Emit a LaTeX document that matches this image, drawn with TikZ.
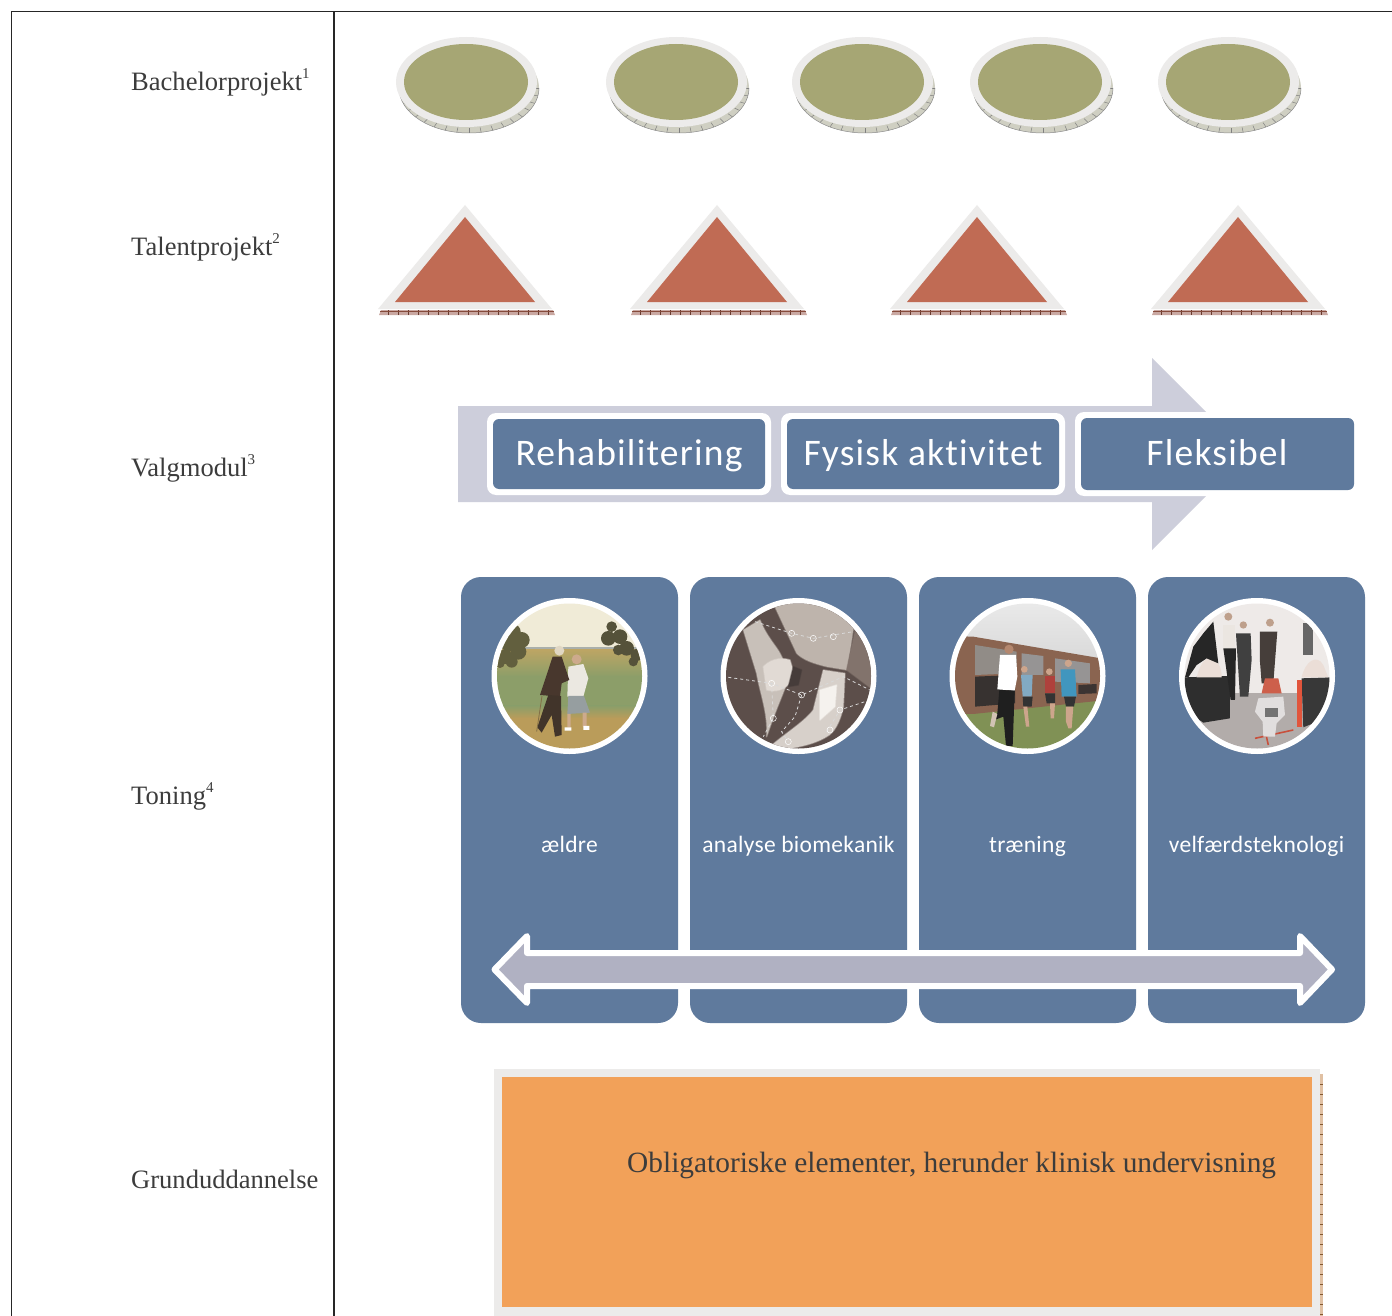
\documentclass[tikz,border=0pt]{standalone}
\usepackage{fontspec}
\setmainfont{Liberation Serif}
\newfontfamily\calibbig[LetterSpace=3.2,Ligatures=NoCommon]{Carlito}
\newfontfamily\calibsm[LetterSpace=1.3,Ligatures=NoCommon]{Carlito}
\definecolor{boxblue}{HTML}{5F7A9D}
\definecolor{ringgrey}{HTML}{ECEBEA}
\definecolor{olive}{HTML}{A6A674}
\definecolor{terra}{HTML}{C06B54}
\definecolor{lav}{HTML}{CDCEDB}
\definecolor{lavd}{HTML}{B0B1C2}
\definecolor{orangebox}{HTML}{F2A159}
\definecolor{inktext}{HTML}{3C3C3C}
\definecolor{discedge}{HTML}{CFCFC2}
\definecolor{trihatch}{HTML}{C9A8A2}
\definecolor{straw}{RGB}{188,165,100}
\definecolor{fieldgreen}{RGB}{140,158,105}
\definecolor{pathstraw}{RGB}{186,156,90}
\definecolor{xa}{RGB}{190,180,172}
\definecolor{xb}{RGB}{130,115,108}
\definecolor{xc}{RGB}{200,192,185}
\definecolor{xd}{RGB}{225,218,212}
\definecolor{xe}{RGB}{215,208,202}
\definecolor{xf}{RGB}{245,242,238}
\definecolor{xg}{RGB}{70,60,58}
\tikzset{
  rowlabel/.style={anchor=base west,text=inktext,font=\fontsize{26.55}{30}\selectfont,inner sep=0pt},
  pilltext/.style={anchor=base,text=white,font=\calibbig\fontsize{37.5}{40}\selectfont,inner sep=0pt},
  coltext/.style={anchor=base,text=white,font=\calibsm\fontsize{23.5}{26}\selectfont,inner sep=0pt},
  tickline/.style={line width=.5pt,draw=#1},
  soft/.style={fill=#1,draw=#1,draw opacity=.45,line width=1.5pt,line join=round},
}
\newcommand{\Disc}[1]{%
  \begin{scope}[shift={(#1,82)}]
    \fill[discedge] (3,6) ellipse [x radius=70,y radius=45];
    \foreach \a in {0,10,...,170}{\draw[tickline=black!50] ({3+70*cos(\a)},{6+45*sin(\a)}) -- ({3+64*cos(\a)},{6+40*sin(\a)});}
    \draw[line width=.5pt,draw=black!45] (-67,6) arc [start angle=180,end angle=0,x radius=70,y radius=45];
    \fill[ringgrey] (0.5,0) ellipse [x radius=70.5,y radius=45];
    \fill[olive] (0,0) ellipse [x radius=62,y radius=38];
  \end{scope}}
\newcommand{\Tri}[1]{%
  \begin{scope}[shift={(#1,0)}]
    \fill[trihatch] (-85,310) -- (87,310) -- (89,315) -- (-87,315) -- cycle;
    \foreach \d in {-78,-68,...,82}{\draw[tickline=terra!55!black] (\d,310) -- (\d,315);}
    \draw[line width=.7pt,draw=terra!70!black] (-86,311) -- (88,311);
    \fill[ringgrey] (-1,205) -- (86,309) -- (-88,309) -- cycle;
    \fill[terra] (-1,217) -- (69,302) -- (-71,302) -- cycle;
  \end{scope}}
\newcommand{\Pill}[4]{%
  \fill[rounded corners=9pt,white] (#1,413) rectangle (#2,495);
  \fill[rounded corners=6pt,boxblue] ({#1+6},419) rectangle ({#2-6},489);
  \node[pilltext] (#4) at ({(#1+#2)/2},465) {#3};}
\begin{document}
\begin{tikzpicture}[x=1pt,y=-1pt]
\useasboundingbox (0,0) rectangle (1392,1316);
\fill[white] (0,0) rectangle (1392,1316);
% frame
\draw[line width=1.6pt,black!85] (1392,11.5) -- (11.5,11.5) -- (11.5,1316);
\draw[line width=1.6pt,black!85] (334,11.5) -- (334,1316);
% row labels
\node[rowlabel] (l1) at (131,90.5) {Bachelorprojekt\raisebox{12pt}{\fontsize{15}{15}\selectfont 1}};
\node[rowlabel] (l2) at (131,255) {Talentprojekt\raisebox{12pt}{\fontsize{15}{15}\selectfont 2}};
\node[rowlabel] (l3) at (131,476) {Valgmodul\raisebox{12pt}{\fontsize{15}{15}\selectfont 3}};
\node[rowlabel] (l4) at (131,804) {Toning\raisebox{12pt}{\fontsize{15}{15}\selectfont 4}};
\node[rowlabel] (l5) at (131,1188) {Grunduddannelse};
% discs and triangles
\Disc{466}\Disc{676}\Disc{862}\Disc{1040}\Disc{1228}
\Tri{466}\Tri{718}\Tri{978}\Tri{1239}
% big arrow
\fill[lav] (458,406) -- (1152,406) -- (1152,358) -- (1248,454) -- (1152,550) -- (1152,502) -- (458,502) -- cycle;
\Pill{487}{771}{Rehabilitering}{p1}
\Pill{781}{1065}{Fysisk aktivitet}{p2}
\fill[rounded corners=9pt,white] (1075,412) rectangle (1360,496);
\fill[white] (1354,410) rectangle (1362,498);
\fill[rounded corners=6pt,boxblue] (1081,418) rectangle (1354,490);
\node[pilltext] (p3) at (1217,465) {Fleksibel};
% columns
\foreach \xa in {461,690,919,1148}{
  \fill[boxblue,rounded corners=20pt] (\xa,577) rectangle ({\xa+217},1023);
}
% photo 1
\fill[white] (569.5,676) circle [radius=78];
\begin{scope}
  \clip (569.5,676) circle [radius=72.5];
  \begin{scope}[shift={(480,590)},x=.3333pt,y=-.3333pt]
    \fill[fill={rgb,255:red,240;green,235;blue,215}] (0,0) rectangle (520,180);
    \fill[fill={rgb,255:red,170;green,175;blue,170}] (0,172) rectangle (520,182);
    \shade[top color=straw,bottom color=fieldgreen] (0,180) rectangle (520,260);
    \fill[fieldgreen] (0,258) rectangle (520,350);
    \shade[top color=fieldgreen,bottom color=pathstraw] (0,348) rectangle (520,385);
    \fill[pathstraw] (0,383) rectangle (520,520);
    % trees
    \foreach \tx/\ty/\tr in {100/125/22,125/150/24,85/160/24,115/185/24,75/200/22,95/215/18,60/220/14}{
      \fill[fill={rgb,255:red,98;green,95;blue,62}] (\tx,\ty) circle [radius=\tr];}
    \foreach \tx/\ty/\tr in {395/110/16,385/145/22,420/140/22,440/175/22,470/195/18,415/180/16,460/215/14}{
      \fill[fill={rgb,255:red,85;green,82;blue,58}] (\tx,\ty) circle [radius=\tr];}
    % woman
    \fill[fill={rgb,255:red,205;green,170;blue,140}] (290,208) circle [radius=15];
    \fill[fill={rgb,255:red,235;green,232;blue,225}] (265,230) -- (310,222) -- (325,265) -- (310,320) -- (262,320) -- cycle;
    \fill[fill={rgb,255:red,150;green,158;blue,160}] (265,318) -- (312,318) -- (330,368) -- (262,372) -- cycle;
    \fill[fill={rgb,255:red,205;green,170;blue,140}] (262,372) rectangle (272,412) (308,368) rectangle (320,410);
    \fill[white] (254,412) rectangle (274,422) (310,408) rectangle (328,420);
    % man
    \fill[fill={rgb,255:red,225;green,215;blue,195}] (238,182) circle [radius=15];
    \fill[fill={rgb,255:red,72;green,55;blue,45}] (218,200) -- (245,200) -- (268,270) -- (245,280) -- (240,320) -- (180,315) -- cycle;
    \fill[fill={rgb,255:red,65;green,52;blue,42}] (205,315) -- (243,318) -- (245,435) -- (225,440) -- (215,375) -- (185,428) -- (172,412) -- cycle;
    \draw[line width=.8pt,draw={rgb,255:red,130;green,110;blue,70}] (186,318) -- (170,425);
  \end{scope}
\end{scope}
% photo 2
\fill[white] (798.5,676) circle [radius=78];
\begin{scope}
  \clip (798.5,676) circle [radius=72.5];
  \begin{scope}[shift={(480,590)},x=.3333pt,y=-.3333pt]
    \fill[fill={rgb,255:red,92;green,78;blue,74}] (700,0) rectangle (1200,500);
    \path[soft=xa] (880,40) -- (1130,40) .. controls (1120,120) and (1110,190) .. (1100,240) -- (1040,230) .. controls (1000,220) and (970,210) .. (950,190) -- cycle;
    \path[soft=xb] (1100,240) -- (1130,100) -- (1180,150) -- (1180,300) -- cycle;
    \path[soft=xc] (790,120) -- (840,90) .. controls (860,140) and (890,170) .. (900,190) -- (930,250) .. controls (920,290) and (890,350) .. (860,440) .. controls (865,370) and (840,310) .. (830,250) -- cycle;
    \path[soft=xd] (850,230) .. controls (880,200) and (915,205) .. (930,210) -- (945,260) .. controls (925,290) and (900,310) .. (860,300) -- cycle;
    \path[soft=xe] (1030,240) -- (1095,250) -- (1090,350) .. controls (1080,400) and (1060,430) .. (1040,440) .. controls (1000,465) and (930,480) .. (860,480) .. controls (900,440) and (970,400) .. (1000,360) -- cycle;
    \path[soft=xf] (1020,300) -- (1070,285) -- (1065,350) -- (1020,390) -- cycle;
    \path[soft=xg] (940,230) -- (965,240) -- (955,285) -- (925,290) -- cycle;
    \draw[white!85!black,line width=.8pt,dashed] (825,95) -- (935,130) -- (1000,145) -- (1120,125);
    \draw[white!85!black,line width=.8pt,dashed] (745,262) -- (875,280) -- (965,315) -- (1090,260) -- (1170,300);
    \draw[white!85!black,line width=.8pt,dashed] (875,280) -- (880,385) -- (850,440);
    \draw[white!85!black,line width=.8pt,dashed] (965,315) -- (945,380) -- (905,425) -- (925,455);
    \draw[white!85!black,line width=.8pt,dashed] (1170,330) -- (1080,360) -- (1040,425);
    \foreach \p in {(935,130),(1000,145),(1060,140),(875,280),(965,315),(880,385),(1080,360),(1050,420),(925,455)}{
      \draw[white,line width=.5pt] \p circle [radius=9];}
  \end{scope}
\end{scope}
% photo 3
\fill[white] (1027.5,676) circle [radius=78];
\begin{scope}
  \clip (1027.5,676) circle [radius=72.5];
  \begin{scope}[shift={(940,590)},x=.3333pt,y=-.3333pt]
    \shade[top color=black!7,bottom color=black!16] (0,0) rectangle (520,240);
    \fill[fill={rgb,255:red,128;green,145;blue,85}] (0,330) rectangle (520,500);
    \fill[fill={rgb,255:red,138;green,100;blue,80}] (30,138) -- (100,140) -- (500,208) -- (500,330) -- (100,372) -- (30,372) -- cycle;
    \fill[fill={rgb,255:red,145;green,140;blue,135}] (105,165) -- (230,185) -- (230,250) -- (105,255) -- cycle;
    \fill[fill={rgb,255:red,55;green,50;blue,48}] (105,260) -- (225,255) -- (225,340) -- (105,350) -- cycle;
    \fill[fill={rgb,255:red,150;green,148;blue,148}] (245,190) -- (310,198) -- (310,255) -- (245,255) -- cycle;
    \fill[fill={rgb,255:red,150;green,148;blue,148}] (345,205) -- (450,220) -- (450,280) -- (345,275) -- cycle;
    \fill[fill={rgb,255:red,60;green,52;blue,50}] (415,285) -- (470,282) -- (470,310) -- (415,312) -- cycle;
    % far runners
    \fill[fill={rgb,255:red,205;green,165;blue,140}] (253,238) circle [radius=10] (328,245) circle [radius=10] (385,220) circle [radius=11];
    \fill[fill={rgb,255:red,130;green,170;blue,195}] (243,255) -- (278,255) -- (275,320) -- (248,320) -- cycle;
    \fill[fill=black!80] (248,320) -- (278,320) -- (275,350) -- (250,350) -- cycle;
    \fill[fill={rgb,255:red,205;green,165;blue,140}] (250,350) -- (262,350) -- (268,410) -- (258,410) -- cycle;
    \fill[fill={rgb,255:red,175;green,65;blue,60}] (315,258) -- (345,258) -- (345,310) -- (315,310) -- cycle;
    \fill[fill=black!80] (315,310) -- (345,310) -- (345,340) -- (320,340) -- cycle;
    \fill[fill={rgb,255:red,205;green,165;blue,140}] (330,340) -- (345,340) -- (342,385) -- (332,385) -- cycle;
    \fill[fill={rgb,255:red,65;green,150;blue,190}] (362,238) -- (405,238) -- (410,320) -- (365,320) -- cycle;
    \fill[fill=black!80] (372,320) -- (408,320) -- (402,350) -- (378,350) -- cycle;
    \fill[fill={rgb,255:red,205;green,165;blue,140}] (378,350) -- (400,350) -- (395,415) -- (385,415) -- (378,395) -- cycle;
    % near runner
    \fill[fill={rgb,255:red,180;green,135;blue,110}] (207,178) circle [radius=14];
    \fill[white] (180,195) -- (228,195) -- (232,260) -- (224,302) -- (172,298) -- cycle;
    \fill[fill=black!88] (178,300) -- (224,302) -- (218,468) -- (198,468) -- (190,380) -- (158,392) -- (172,370) -- cycle;
    \fill[fill={rgb,255:red,210;green,195;blue,180}] (150,408) -- (158,365) -- (172,372) -- (162,412) -- cycle;
  \end{scope}
\end{scope}
% photo 4
\fill[white] (1257,676) circle [radius=78];
\begin{scope}
  \clip (1257,676) circle [radius=72.5];
  \begin{scope}[shift={(940,590)},x=.3333pt,y=-.3333pt]
    \fill[fill={rgb,255:red,238;green,234;blue,232}] (700,0) rectangle (1200,320);
    \fill[fill={rgb,255:red,178;green,172;blue,170}] (700,310) rectangle (1200,500);
    % plinths
    \fill[fill=black!82] (735,262) -- (870,258) -- (870,385) -- (790,398) -- (735,360) -- cycle;
    \fill[fill=black!78] (1085,265) -- (1170,262) -- (1170,380) -- (1090,412) -- cycle;
    \fill[fill={rgb,255:red,225;green,85;blue,60}] (1072,270) rectangle (1085,410);
    \fill[fill={rgb,255:red,235;green,222;blue,215}] (770,262) .. controls (780,220) and (800,195) .. (820,205) .. controls (845,225) and (845,250) .. (845,262) -- cycle;
    \fill[fill={rgb,255:red,235;green,222;blue,215}] (1085,262) .. controls (1095,215) and (1130,190) .. (1150,225) -- (1165,262) -- cycle;
    % people
    \fill[fill=black!85] (790,130) -- (820,95) -- (835,220) -- (800,205) -- (770,225) -- (745,262) -- (735,262) -- (760,170) -- cycle;
    \fill[fill={rgb,255:red,235;green,230;blue,225}] (850,105) -- (885,105) -- (885,180) -- (850,180) -- cycle;
    \fill[fill={rgb,255:red,190;green,160;blue,140}] (865,80) circle [radius=12] (910,105) circle [radius=11] (990,98) circle [radius=12];
    \fill[fill=black!85] (850,175) -- (888,175) -- (885,330) -- (872,330) -- cycle;
    \fill[fill=black!75] (888,130) -- (932,130) -- (935,210) -- (925,320) -- (900,320) -- cycle;
    \fill[fill={rgb,255:red,70;green,62;blue,58}] (960,125) -- (1012,125) -- (1005,215) -- (1000,280) -- (965,280) -- (960,215) -- cycle;
    \fill[fill=black!60] (1090,100) rectangle (1120,195);
    % robot
    \draw[line width=1.6pt,draw={rgb,255:red,200;green,80;blue,60}] (945,445) -- (1060,420);
    \draw[line width=1.6pt,draw={rgb,255:red,200;green,80;blue,60}] (975,420) -- (985,465);
    \fill[fill={rgb,255:red,205;green,95;blue,75}] (975,265) -- (1015,265) -- (1025,310) -- (965,310) -- cycle;
    \fill[fill={rgb,255:red,225;green,222;blue,222}] (955,325) -- (1030,320) -- (1035,375) -- (1010,400) -- (1005,440) -- (970,440) -- (968,395) -- (945,365) -- cycle;
    \fill[fill=black!55] (975,355) rectangle (1015,380);
  \end{scope}
\end{scope}
% column captions
\node[coltext] (c1) at (569.5,852) {ældre};
\node[coltext] (c2) at (798.5,852) {analyse biomekanik};
\node[coltext] (c3) at (1027.5,852) {træning};
\node[coltext] (c4) at (1256.5,852) {velfærdsteknologi};
% double arrow
\draw[draw=white,line width=6pt,line join=round,fill=lavd]
  (494.5,969.5) -- (527,936) -- (527,953) -- (1300,953) -- (1300,936) -- (1332,969.5) -- (1300,1003) -- (1300,986) -- (527,986) -- (527,1003) -- cycle;
% orange block
\fill[fill=black!20!orangebox!50!white] (1319,1074) rectangle (1323,1316);
\foreach \yy in {1084,1094,...,1314}{\draw[tickline=black!45!orangebox] (1320,\yy) -- (1323,\yy);}
\fill[ringgrey] (494,1069) rectangle (1320,1316);
\fill[orangebox] (502,1077) rectangle (1312,1307);
\node[anchor=base west,inner sep=0pt,text=inktext,font=\fontsize{29.37}{32}\selectfont] (ob) at (627,1172) {Obligatoriske elementer, herunder klinisk undervisning};
\end{tikzpicture}
\end{document}
